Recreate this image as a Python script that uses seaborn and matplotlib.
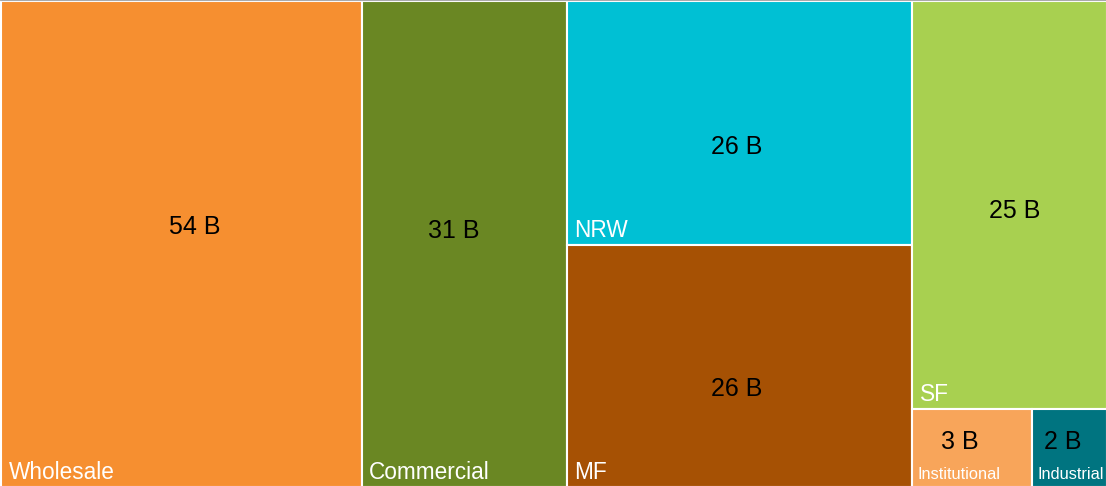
import matplotlib
matplotlib.use("Agg")
import matplotlib.pyplot as plt
from matplotlib.patches import Rectangle
import seaborn as sns

# ---- data ----
categories = ["Wholesale", "Commercial", "NRW", "MF", "SF", "Institutional", "Industrial"]
values = [54.2, 30.8, 26.0, 25.9, 24.6, 2.9, 1.8]   # billions
value_labels = ["54 B", "31 B", "26 B", "26 B", "25 B", "3 B", "2 B"]

# ---- style ----
colors = ["#F68F30", "#6A8723", "#00C0D4", "#A65104", "#A8D050", "#F8A55A", "#007480"]
# tree structure: columns -> stacked cells -> side-by-side cells
structure = [[0], [1], [2, 3], [4, [5, 6]]]
# small nudges of the value labels (pixels) to mimic the reference placement
label_nudge = [(13, -17), (-10, -13), (-3, 24), (-3, 23), (5, 6), (-12, -6), (-7, -6)]

sns.set_theme(style="white")
plt.rcParams["font.family"] = ["Liberation Sans", "DejaVu Sans"]

W_PX, H_PX = 1106, 486
fig = plt.figure(figsize=(W_PX / 100, H_PX / 100), dpi=100)
ax = fig.add_axes([0, 0, 1, 1])
ax.set_xlim(0, W_PX)
ax.set_ylim(H_PX, 0)
ax.axis("off")

def total(node):
    if isinstance(node, list):
        return sum(total(n) for n in node)
    return values[node]

rects = {}

def layout(nodes, x, y, w, h, horizontal):
    s = sum(total(n) for n in nodes)
    pos = 0.0
    for n in nodes:
        frac = total(n) / s
        if horizontal:
            cx, cy, cw, ch = x + pos * w, y, frac * w, h
        else:
            cx, cy, cw, ch = x, y + pos * h, w, frac * h
        pos += frac
        if isinstance(n, list):
            layout(n, cx, cy, cw, ch, not horizontal)
        else:
            rects[n] = (cx, cy, cw, ch)

# top-level: columns laid out horizontally, each column stacked vertically
X0, Y0 = 1, 1.5
layout(structure, X0, Y0, W_PX + 1 - X0, H_PX + 1 - Y0, True)

for i, cat in enumerate(categories):
    x, y, w, h = rects[i]
    ax.add_patch(Rectangle((x, y), w, h, facecolor=colors[i], edgecolor="white",
                           linewidth=1.5))
    dx, dy = label_nudge[i]
    ax.text(x + w / 2 + dx, y + h / 2 + dy, value_labels[i], ha="center", va="center",
            fontsize=18, color="black")
    small = h < 100
    pad = 5 if small else 7.5
    ax.text(x + pad, y + h - 8, cat, ha="left", va="baseline",
            fontsize=11.8 if small else 16.3, color="white")

ax.plot([0, W_PX], [0.5, 0.5], color="#AAAAAA", linewidth=0.8)

fig.savefig("out.png", dpi=100)
